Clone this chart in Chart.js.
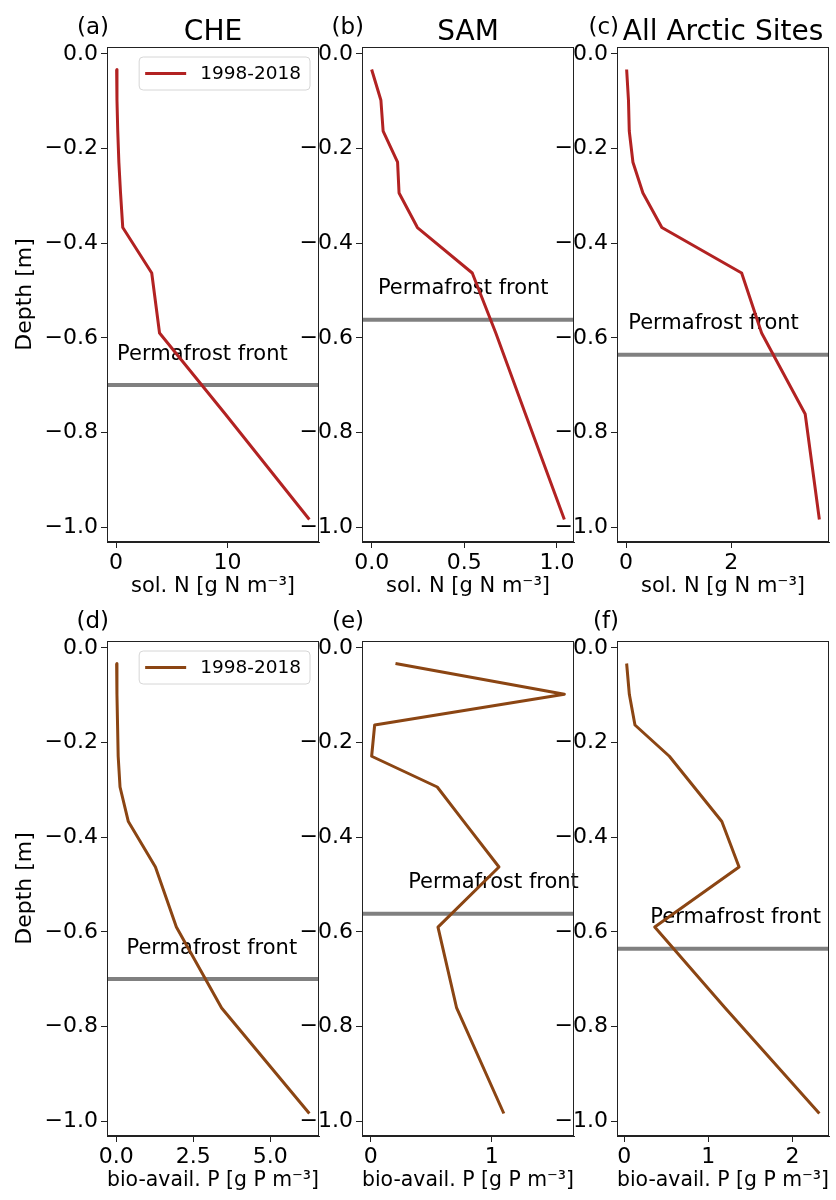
<!DOCTYPE html>
<html>
<head>
<meta charset="utf-8">
<title>Soil N and P profiles</title>
<script src="https://cdn.jsdelivr.net/npm/chart.js@4.4.1/dist/chart.umd.min.js"></script>
<style>
  html, body { margin: 0; padding: 0; background: #fff; }
  #wrap { position: relative; width: 836px; height: 1200px; overflow: hidden; }
  #wrap canvas { position: absolute; }
</style>
</head>
<body>
<div id="wrap"></div>
<script>
// layer depths (m), shared by all panels
const depth = [-0.033, -0.098, -0.163, -0.229, -0.294, -0.367, -0.463, -0.590, -0.761, -0.984];

// soluble N, 1998-2018 mean (g N m-3)
const cheN = [0.05, 0.08, 0.15, 0.25, 0.40, 0.60, 3.20, 3.90, 9.80, 17.35];
const samN = [0.00, 0.05, 0.062, 0.14, 0.148, 0.247, 0.543, 0.67, 0.83, 1.04];
const arcticN = [0.01, 0.045, 0.06, 0.13, 0.32, 0.68, 2.20, 2.58, 3.41, 3.68];

// bio-available P, 1998-2018 mean (g P m-3)
const cheP = [0.01, 0.02, 0.04, 0.06, 0.12, 0.39, 1.27, 1.95, 3.42, 6.27];
const samP = [0.205, 1.60, 0.033, 0.008, 0.55, 0.77, 1.06, 0.556, 0.71, 1.10];
const arcticP = [0.028, 0.06, 0.127, 0.536, 0.83, 1.16, 1.365, 0.362, 1.20, 2.32];

// permafrost front depth (m): CHE, SAM, all sites
const permafrostFront = [-0.70, -0.562, -0.636];

const seriesLabel = '1998-2018';
const siteNames = ['CHE', 'SAM', 'All Arctic Sites'];
const panelLetters = ['(a)', '(b)', '(c)', '(d)', '(e)', '(f)'];

// tick values and labels
const depthTicks = [0, -0.2, -0.4, -0.6, -0.8, -1.0];
const depthTickLabels = ['0.0', '\u22120.2', '\u22120.4', '\u22120.6', '\u22120.8', '\u22121.0'];
const cheNTicks = [0, 10];
const cheNTickLabels = ['0', '10'];
const samNTicks = [0, 0.5, 1.0];
const samNTickLabels = ['0.0', '0.5', '1.0'];
const arcticNTicks = [0, 2];
const arcticNTickLabels = ['0', '2'];
const chePTicks = [0, 2.5, 5.0];
const chePTickLabels = ['0.0', '2.5', '5.0'];
const samPTicks = [0, 1];
const samPTickLabels = ['0', '1'];
const arcticPTicks = [0, 1, 2];
const arcticPTickLabels = ['0', '1', '2'];

const nTitle = 'sol. N [g N m\u207B\u00B3]';
const pTitle = 'bio-avail. P [g P m\u207B\u00B3]';

const FONT = "'DejaVu Sans', sans-serif";
const nColor = '#b22222';
const pColor = '#8b4513';

const panels = [
  { row: 0, col: 0, values: cheN, ticks: cheNTicks, labels: cheNTickLabels, color: nColor, xTitle: nTitle, legend: true, textX: 0.09 },
  { row: 0, col: 1, values: samN, ticks: samNTicks, labels: samNTickLabels, color: nColor, xTitle: nTitle, legend: false, textX: 0.034 },
  { row: 0, col: 2, values: arcticN, ticks: arcticNTicks, labels: arcticNTickLabels, color: nColor, xTitle: nTitle, legend: false, textX: 0.04 },
  { row: 1, col: 0, values: cheP, ticks: chePTicks, labels: chePTickLabels, color: pColor, xTitle: pTitle, legend: true, textX: 0.33 },
  { row: 1, col: 1, values: samP, ticks: samPTicks, labels: samPTickLabels, color: pColor, xTitle: pTitle, legend: false, textX: 0.31 },
  { row: 1, col: 2, values: arcticP, ticks: arcticPTicks, labels: arcticPTickLabels, color: pColor, xTitle: pTitle, legend: false, textX: 0.31 }
];

const colLeft = [0, 255, 510];
const rowTop = [0, 594];

// frame, permafrost line + text, titles and legend
const panelDecor = {
  id: 'panelDecor',
  beforeDatasetsDraw(chart, args, o) {
    const { ctx, chartArea: a, scales: { x, y } } = chart;
    const py = y.getPixelForValue(o.front);
    ctx.save();
    ctx.strokeStyle = '#808080';
    ctx.lineWidth = 4;
    ctx.beginPath();
    ctx.moveTo(a.left, py);
    ctx.lineTo(a.right, py);
    ctx.stroke();
    ctx.fillStyle = '#000';
    ctx.font = '21px ' + FONT;
    ctx.textAlign = 'left';
    ctx.textBaseline = 'middle';
    ctx.fillText('Permafrost front', x.getPixelForValue(o.textX), py - 31);
    ctx.restore();
  },
  afterDraw(chart, args, o) {
    const { ctx, chartArea: a } = chart;
    ctx.save();
    ctx.strokeStyle = '#222';
    ctx.lineWidth = 1;
    ctx.strokeRect(Math.round(a.left) + 0.5, Math.round(a.top) + 0.5,
      Math.round(a.right - a.left) - 1, Math.round(a.bottom - a.top) - 1);

    ctx.fillStyle = '#000';
    ctx.textBaseline = 'alphabetic';
    if (o.title) {
      ctx.font = '28px ' + FONT;
      ctx.textAlign = 'center';
      ctx.fillText(o.title, (a.left + a.right) / 2, a.top - 7);
    }
    ctx.font = '23px ' + FONT;
    ctx.textAlign = 'right';
    ctx.fillText(o.letter, a.left + 2, a.top - 13);

    if (o.legend) {
      const ds = chart.data.datasets[0];
      ctx.font = '18.5px ' + FONT;
      const tw = ctx.measureText(ds.label).width;
      const w = 6 + 41 + 14 + tw + 9, h = 33;
      const bx = a.right - 9 - w, by = a.top + 10;
      ctx.beginPath();
      if (ctx.roundRect) ctx.roundRect(bx, by, w, h, 4); else ctx.rect(bx, by, w, h);
      ctx.fillStyle = 'rgba(255,255,255,0.8)';
      ctx.fill();
      ctx.strokeStyle = '#d6d6d6';
      ctx.stroke();
      ctx.strokeStyle = ds.borderColor;
      ctx.lineWidth = 3;
      ctx.beginPath();
      ctx.moveTo(bx + 6, by + h / 2);
      ctx.lineTo(bx + 47, by + h / 2);
      ctx.stroke();
      ctx.fillStyle = '#000';
      ctx.textAlign = 'left';
      ctx.textBaseline = 'middle';
      ctx.fillText(ds.label, bx + 61, by + h / 2 + 1);
    }
    ctx.restore();
  }
};

const wrap = document.getElementById('wrap');
const dLo = Math.min(...depth), dHi = Math.max(...depth), dPad = (dHi - dLo) * 0.05;

panels.forEach((p, k) => {
  const cv = document.createElement('canvas');
  cv.width = 326;
  cv.height = p.row === 0 ? 600 : 606;
  cv.style.left = colLeft[p.col] + 'px';
  cv.style.top = rowTop[p.row] + 'px';
  wrap.appendChild(cv);

  const lo = Math.min(...p.values), hi = Math.max(...p.values), pad = (hi - lo) * 0.05;
  const tickFont = { family: FONT, size: 22 };

  new Chart(cv, {
    type: 'scatter',
    data: {
      datasets: [{
        label: seriesLabel,
        data: depth.map((d, i) => ({ x: p.values[i], y: d })),
        showLine: true,
        borderColor: p.color,
        borderWidth: 3,
        borderJoinStyle: 'round',
        pointRadius: 0,
        tension: 0
      }]
    },
    options: {
      responsive: false,
      animation: false,
      events: [],
      layout: { padding: { top: 47, left: 0, right: 7, bottom: p.row === 0 ? 0 : 6 } },
      plugins: {
        legend: { display: false },
        tooltip: { enabled: false },
        panelDecor: {
          front: permafrostFront[p.col],
          textX: p.textX,
          title: p.row === 0 ? siteNames[p.col] : null,
          letter: panelLetters[k],
          legend: p.legend
        }
      },
      scales: {
        x: {
          type: 'linear',
          min: lo - pad,
          max: hi + pad,
          afterFit: s => { s.height = 58; },
          afterBuildTicks: s => { s.ticks = p.ticks.map(v => ({ value: v })); },
          ticks: { callback: (v, i) => p.labels[i], font: tickFont, color: '#000', padding: 2, maxRotation: 0, autoSkip: false },
          grid: { drawOnChartArea: false, tickLength: 6, color: '#222' },
          border: { color: '#222' },
          title: { display: true, text: p.xTitle, font: { family: FONT, size: 21 }, color: '#000', padding: { top: 0, bottom: 1 } }
        },
        y: {
          type: 'linear',
          min: dLo - dPad,
          max: dHi + dPad,
          afterFit: s => { s.width = 107; },
          afterBuildTicks: s => { s.ticks = depthTicks.map(v => ({ value: v })); },
          ticks: { callback: (v, i) => depthTickLabels[i], font: tickFont, color: '#000', padding: 3, autoSkip: false },
          grid: { drawOnChartArea: false, tickLength: 6, color: '#222' },
          border: { color: '#222' },
          title: { display: p.col === 0, text: 'Depth [m]', font: { family: FONT, size: 22 }, color: '#000', padding: { top: 12, bottom: 0 } }
        }
      }
    },
    plugins: [panelDecor]
  });
});
</script>
</body>
</html>
